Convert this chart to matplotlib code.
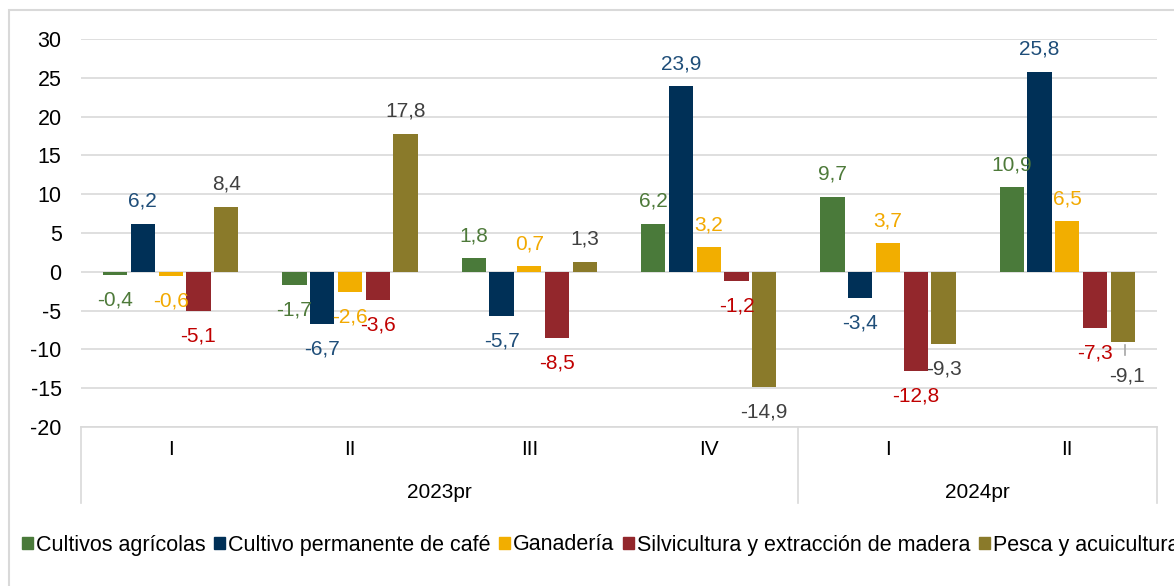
import numpy as np
import matplotlib.pyplot as plt
from matplotlib.lines import Line2D
from matplotlib.patches import Rectangle

plt.rcParams["font.family"] = ["Liberation Sans", "DejaVu Sans"]
plt.rcParams["axes.unicode_minus"] = False

quarters = ["I", "II", "III", "IV", "I", "II"]
years = ["2023pr", "2024pr"]
year_sizes = [4, 2]

series = ["Cultivos agrícolas", "Cultivo permanente de café", "Ganadería",
          "Silvicultura y extracción de madera", "Pesca y acuicultura"]
cultivos = [-0.4, -1.7, 1.8, 6.2, 9.7, 10.9]
cafe = [6.2, -6.7, -5.7, 23.9, -3.4, 25.8]
ganaderia = [-0.6, -2.6, 0.7, 3.2, 3.7, 6.5]
silvicultura = [-5.1, -3.6, -8.5, -1.2, -12.8, -7.3]
pesca = [8.4, 17.8, 1.3, -14.9, -9.3, -9.1]

bar_colors = ["#4A7A3A", "#003057", "#F2AE00", "#93272C", "#8A7A2A"]
label_colors = ["#4E7A3A", "#1F4E79", "#F2A900", "#C00000", "#404040"]

fig = plt.figure(figsize=(11.74, 5.86), dpi=100)
ax = fig.add_axes([81 / 1174, 1 - 427 / 586, (1157 - 81) / 1174, (427 - 39) / 586])

x = np.arange(len(quarters))
step = 0.155
width = 0.135
data = [cultivos, cafe, ganaderia, silvicultura, pesca]
for i, vals in enumerate(data):
    pos = x + (i - 2) * step
    ax.bar(pos, vals, width, color=bar_colors[i], label=series[i], zorder=3)
    for j, (px, v) in enumerate(zip(pos, vals)):
        off = 16 if v >= 0 else -18
        dx = 0
        if i == 4 and j == 5:
            off = -24
            dx = 3
            ax.plot([px + 0.01, px + 0.01], [v - 0.3, v - 1.6], color="#A6A6A6", lw=1.2, zorder=4)
        txt = f"{v:.1f}".replace(".", ",")
        ax.annotate(txt, (px, v), xytext=(dx, off), textcoords="offset points",
                    ha="center", va="center", fontsize=15, color=label_colors[i], zorder=5)

ax.set_xlim(-0.5, len(quarters) - 0.5)
ax.set_ylim(-20, 30)
ax.set_yticks(range(-20, 31, 5))
ax.tick_params(axis="y", length=0, labelsize=15.5, pad=14)
ax.set_xticks([])
ax.grid(axis="y", color="#D9D9D9", lw=1.2, zorder=0)
for s in ["top", "right", "left"]:
    ax.spines[s].set_visible(False)
ax.spines["bottom"].set_color("#D9D9D9")
ax.spines["bottom"].set_linewidth(1.2)

# category axis with two levels
trans = ax.get_xaxis_transform()
for q, xi in zip(quarters, x):
    ax.text(xi, -0.059, q, transform=trans, ha="center", va="center", fontsize=15)
start = 0
seps = [-0.5]
for yname, n in zip(years, year_sizes):
    ax.text(start + (n - 1) / 2, -0.168, yname, transform=trans, ha="center", va="center", fontsize=15)
    start += n
    seps.append(start - 0.5)
for sx in seps:
    ax.add_line(Line2D([sx, sx], [0, -0.196], transform=trans, color="#D9D9D9", lw=1.2, clip_on=False))

# outer frame
fig.patches.append(Rectangle((9 / 1174, -0.1), 1.2, 1 - 10 / 586 + 0.1, transform=fig.transFigure,
                             fill=False, edgecolor="#D9D9D9", lw=1.5))

handles = [Rectangle((0, 0), 1, 1, color=c) for c in bar_colors]
fig.legend(handles, series, loc="center left", bbox_to_anchor=(22 / 1174, 1 - 545 / 586), ncol=5,
           frameon=False, fontsize=15.5, handlelength=0.5, handleheight=0.5, handletextpad=0.15,
           columnspacing=0.4, borderaxespad=0, borderpad=0)

fig.savefig("out.png", dpi=100)
